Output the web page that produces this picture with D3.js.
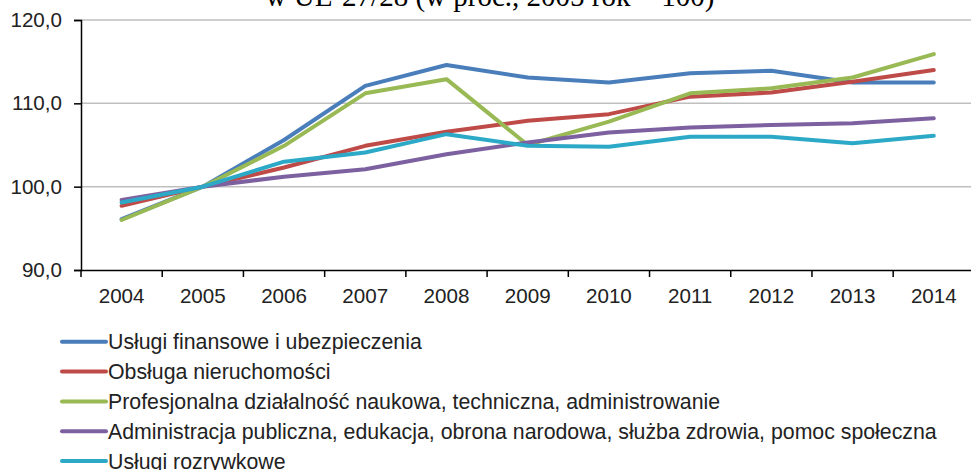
<!DOCTYPE html>
<html><head><meta charset="utf-8">
<script src="https://cdn.jsdelivr.net/npm/d3@7"></script>
<style>body{margin:0;background:#fff;}svg{display:block;}</style>
</head><body>
<svg id="c" width="971" height="470"></svg>
<script>
const years = ["2004","2005","2006","2007","2008","2009","2010","2011","2012","2013","2014"];
const seriesNames = [
  "Usługi finansowe i ubezpieczenia",
  "Obsługa nieruchomości",
  "Profesjonalna działalność naukowa, techniczna, administrowanie",
  "Administracja publiczna, edukacja, obrona narodowa, służba zdrowia, pomoc społeczna",
  "Usługi rozrywkowe"
];
const finanse      = [96.1,100,105.6,112.1,114.6,113.1,112.5,113.6,113.9,112.5,112.5];
const nieruchomosci= [97.7,100,102.3,104.9,106.6,107.9,108.7,110.8,111.3,112.6,114.0];
const profesjonalna= [96.0,100,104.9,111.2,112.9,105.0,107.8,111.2,111.8,113.1,115.9];
const administracja= [98.4,100,101.2,102.1,103.9,105.3,106.5,107.1,107.4,107.6,108.2];
const rozrywkowe   = [98.1,100,103.0,104.1,106.3,104.9,104.8,106.0,106.0,105.2,106.1];
const yTicks = [90,100,110,120];
const titleText = "w UE-27/28 (w proc., 2005 rok = 100)";

const colors = ["#4A7EBB","#BE4B48","#98B954","#7D60A0","#2CA9C7"];
const allSeries = [finanse,nieruchomosci,profesjonalna,administracja,rozrywkowe];
const FONT = "Liberation Sans, Arial, sans-serif";
const FS = 20.6;
const LFS = 21.3;

const svg = d3.select("#c");
const x = d3.scaleBand().domain(years).range([81, 974.4]);
const y = d3.scaleLinear().domain([90,120]).range([270,20]);
const fmt = v => d3.format(".1f")(v).replace(".", ",");

svg.append("text").attr("x", 490).attr("y", 6).attr("text-anchor","middle")
  .attr("font-family","Liberation Serif, Times New Roman, serif").attr("font-size", 29)
  .attr("fill","#000").text(titleText);

// gridlines
svg.append("g").selectAll("line").data(yTicks.filter(t=>t>90)).join("line")
  .attr("x1",81).attr("x2",971).attr("y1",d=>y(d)).attr("y2",d=>y(d))
  .attr("stroke","#BFBFBF").attr("stroke-width",1.5);

// y axis
const gy = svg.append("g").attr("transform","translate(81,0)")
  .call(d3.axisLeft(y).tickValues(yTicks).tickFormat(fmt).tickSize(7).tickPadding(12));
gy.select(".domain").attr("stroke","#000").attr("stroke-width",1.5);
gy.selectAll(".tick line").attr("stroke","#000").attr("stroke-width",1.5);
gy.selectAll("text").attr("font-family",FONT).attr("font-size",FS).attr("fill","#222");

// x axis
const gx = svg.append("g").attr("transform","translate(0,270)")
  .call(d3.axisBottom(x).tickSize(0).tickPadding(18));
gx.select(".domain").attr("stroke","#000").attr("stroke-width",1.5);
gx.selectAll("text").attr("font-family",FONT).attr("font-size",FS).attr("fill","#222");
gx.append("g").selectAll("line").data(years).join("line")
  .attr("x1",d=>x(d)).attr("x2",d=>x(d)).attr("y1",0).attr("y2",7)
  .attr("stroke","#000").attr("stroke-width",1.5);

const line = d3.line().x((d,i)=>x(years[i])+x.bandwidth()/2).y(d=>y(d));
svg.append("g").selectAll("path").data(allSeries).join("path")
  .attr("d", line).attr("fill","none")
  .attr("stroke",(d,i)=>colors[i]).attr("stroke-width",4)
  .attr("stroke-linejoin","round").attr("stroke-linecap","round");

// legend
const lg = svg.append("g").selectAll("g").data(seriesNames).join("g")
  .attr("transform",(d,i)=>`translate(0,${341.7+i*29.85})`);
lg.append("line").attr("x1",62).attr("x2",106).attr("y1",0).attr("y2",0)
  .attr("stroke",(d,i)=>colors[i]).attr("stroke-width",4).attr("stroke-linecap","round");
lg.append("text").attr("x",108).attr("y",0).attr("dy","0.35em")
  .attr("font-family",FONT).attr("font-size",LFS).attr("fill","#222")
  .text(d=>d);
</script>
</body></html>
